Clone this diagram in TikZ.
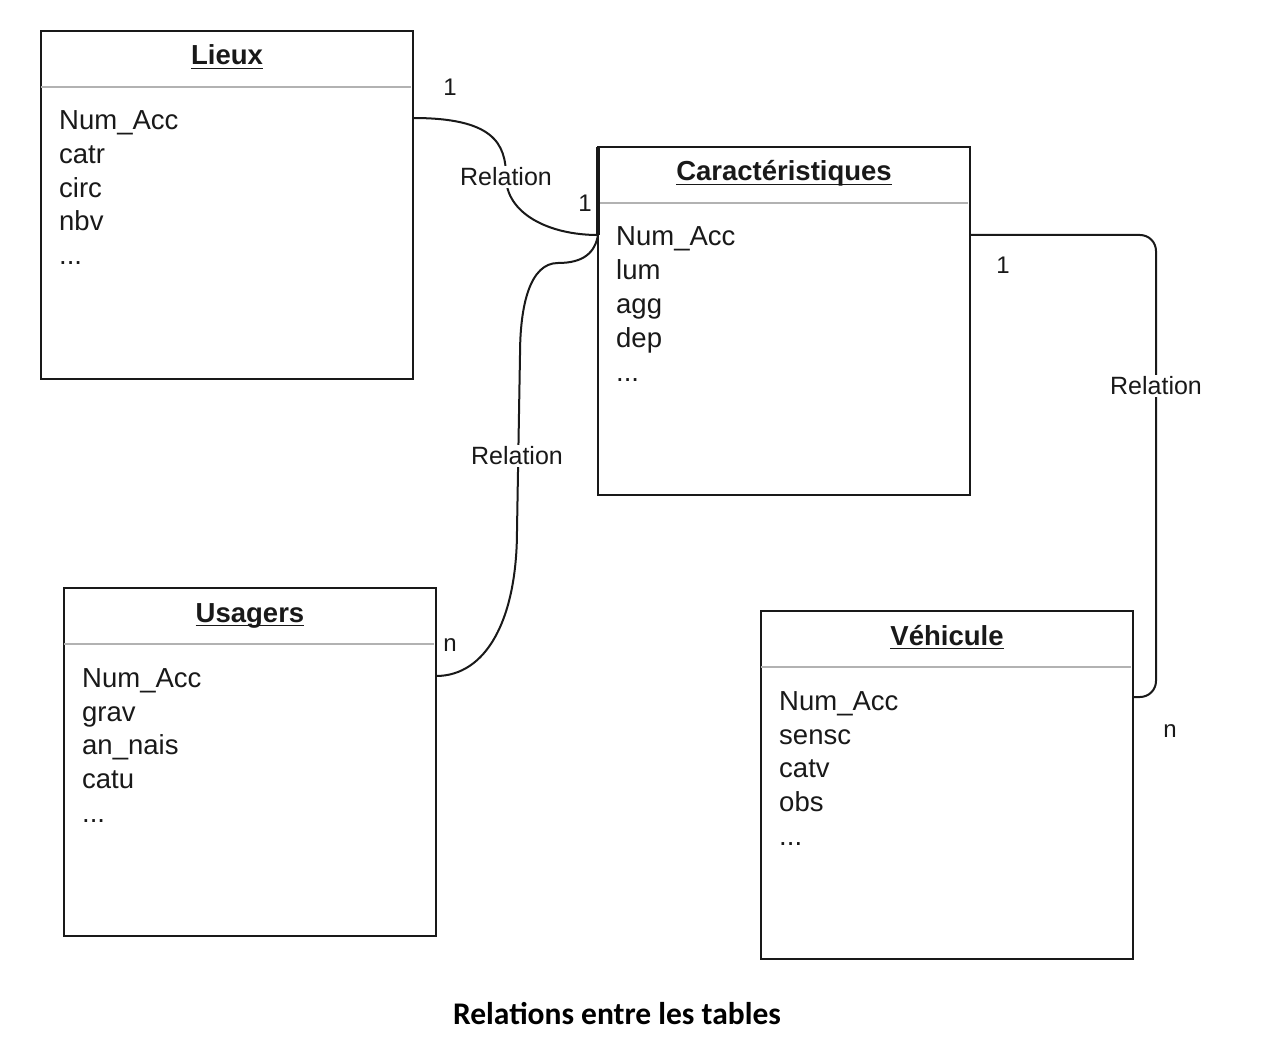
\documentclass[tikz,border=0pt]{standalone}
\usepackage{fontspec}
\setmainfont{Liberation Sans}
\newfontfamily\capfont{Carlito}
\usetikzlibrary{calc}
\newcommand\dbtable[9]{%
  \node[tbl] (#1) at (#2,#3) {};
  \node[ttl] (#1T) at (#2+186,#3+34) {#4};
  \draw[ulin] ([yshift=-3.5pt]#1T.base west) -- ([yshift=-3.5pt]#1T.base east);
  \draw[sep] ([yshift=-56pt]#1.north west) -- ([yshift=-56pt,xshift=-2pt]#1.north east);
  \node[fld] (#1F1) at (#2+18,#3+99) {#5};
  \node[fld] (#1F2) at (#2+18,#3+133) {#6};
  \node[fld] (#1F3) at (#2+18,#3+166.5) {#7};
  \node[fld] (#1F4) at (#2+18,#3+200) {#8};
  \node[fld] (#1F5) at (#2+18,#3+234) {#9};
}
\begin{document}
\begin{tikzpicture}[x=1pt,y=-1pt,
  tbl/.style={draw=black!90, line width=2pt, minimum width=372pt, minimum height=348pt,
    anchor=north west, inner sep=0pt, outer sep=0pt},
  ttl/.style={font=\fontsize{27.5}{33}\selectfont\bfseries, anchor=base, inner sep=0pt, text=black!90},
  ulin/.style={draw=black!90, line width=1.8pt},
  fld/.style={font=\fontsize{27.5}{33}\selectfont, anchor=base west, inner sep=0pt, text=black!90},
  sep/.style={draw=black!30, line width=2.5pt},
  conn/.style={draw=black!90, line width=2pt},
  rel/.style={fill=white, font=\fontsize{25}{30}\selectfont, inner sep=1.5pt, text=black!90},
  card/.style={font=\fontsize{24}{28}\selectfont, inner sep=1pt, text=black!90}]
\fill[white] (0,0) rectangle (1284,1056);
\useasboundingbox (0,0) rectangle (1284,1056);

\dbtable{lieux}{41}{31}{Lieux}{Num\_Acc}{catr}{circ}{nbv}{...}
\dbtable{car}{598}{147}{Caractéristiques}{Num\_Acc}{lum}{agg}{dep}{...}
\dbtable{usa}{64}{588}{Usagers}{Num\_Acc}{grav}{an\_nais}{catu}{...}
\dbtable{veh}{761}{611}{Véhicule}{Num\_Acc}{sensc}{catv}{obs}{...}

% connection points
\coordinate (L1) at ([yshift=-87pt]lieux.north east);
\coordinate (C1) at ([yshift=-88pt]car.north west);
\coordinate (C2) at ([yshift=-88pt]car.north east);
\coordinate (U1) at ([yshift=-88pt]usa.north east);
\coordinate (V1) at ([yshift=-86pt]veh.north east);
\coordinate (m1) at (506,177);
\coordinate (k3) at ($(V1)+(23,0)$);

% thicker upper part of the left edge of Caracteristiques
\draw[draw=black!90, line width=3.5pt] (car.north west) -- (C1);

% Lieux -- Caracteristiques
\draw[conn] (L1) .. controls +(80,0) and +(0,-34) .. (m1)
  .. controls +(0,36) and +(-50,0) .. (C1);
% Usagers -- Caracteristiques
\draw[conn] (C1) .. controls +(-3,18) and +(25,0) .. (558,263)
  .. controls +(-28,0) and +(0,-50) .. (520,355)
  -- (517,530) .. controls +(0,90) and +(50,0) .. (U1);
% Vehicule -- Caracteristiques
\draw[conn, rounded corners=16pt] (C2) -| (k3) -- (V1);

\node[rel] (r1) at (m1) {Relation};
\node[rel] (r2) at (517,456) {Relation};
\node[rel] (r3) at (1156,386) {Relation};

\node[card] (c1) at (450,87) {1};
\node[card] (c2) at (585,203) {1};
\node[card] (c3) at (450,645) {n};
\node[card] (c4) at (1003,265) {1};
\node[card] (c5) at (1170,731) {n};

\node[font=\capfont\bfseries\fontsize{31.5}{36}\selectfont] (cap) at (617,1014) {Relations entre les tables};
\end{tikzpicture}
\end{document}
